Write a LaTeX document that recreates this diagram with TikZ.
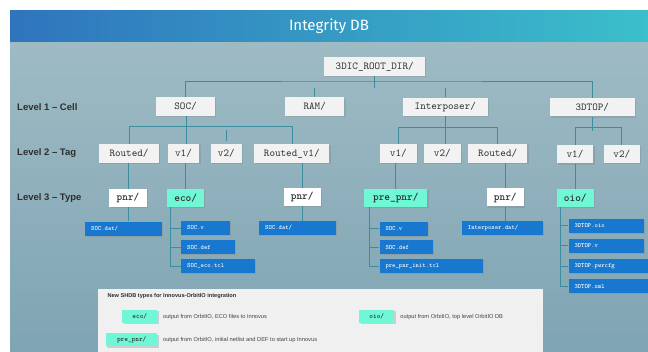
\documentclass[tikz,border=0pt]{standalone}
\usepackage{fontspec}
\setmainfont{Liberation Sans}
\newfontfamily\headfont{Fira Sans}
\usetikzlibrary{positioning,shadows}

\definecolor{headL}{HTML}{2F74BD}
\definecolor{headR}{HTML}{3BBFCB}
\definecolor{bgTop}{HTML}{9EBBC4}
\definecolor{bgBot}{HTML}{7FA4B3}
\definecolor{boxgray}{HTML}{F2F2F2}
\definecolor{typeteal}{HTML}{70F7D6}
\definecolor{fileblue}{HTML}{1877CF}
\definecolor{linkteal}{HTML}{3A8E9E}
\definecolor{labgray}{HTML}{2E2E2E}
\definecolor{panelgray}{HTML}{F0F0F0}

\tikzset{
  softshadow/.style={drop shadow={shadow xshift=1.2pt,shadow yshift=-1.2pt,opacity=0.3}},
  dirbox/.style={fill=boxgray, text=labgray, inner sep=0pt, minimum height=18.5pt,
    font=\ttfamily\fontsize{10.6}{12}\selectfont, softshadow},
  typebox/.style={dirbox, fill=white, minimum height=18pt,
    font=\ttfamily\bfseries\fontsize{10.8}{12}\selectfont},
  newtype/.style={typebox, fill=typeteal},
  file/.style={fill=fileblue, text=white, anchor=west, align=left, inner xsep=6pt,
    inner ysep=0pt, minimum height=14pt, font=\ttfamily\bfseries\fontsize{6.4}{7}\selectfont,
    softshadow},
  link/.style={draw=linkteal, line width=0.8pt},
  level/.style={anchor=west, inner sep=0pt, text=labgray, font=\bfseries\fontsize{9.5}{11}\selectfont},
  key/.style={fill=typeteal, text=labgray, inner sep=0pt, minimum height=13pt,
    font=\ttfamily\bfseries\fontsize{7}{8}\selectfont, softshadow},
  note/.style={inner sep=0pt, text=labgray!90, font=\fontsize{5.7}{7}\selectfont},
}

\begin{document}
\begin{tikzpicture}[x=1pt, y=-1pt]
\useasboundingbox (0,0) rectangle (648,352);

%--- background and header ---
\shade[top color=bgTop, bottom color=bgBot] (10,42) rectangle (648,352);
\shade[left color=headL, right color=headR] (10,11) rectangle (648,42);
\node[text=white, font=\headfont\fontsize{15}{18}\selectfont] (title) at (329,26.5) {Integrity DB};

%--- level labels ---
\node[level] (lvlCell) at (17,107) {Level 1 – Cell};
\node[level] (lvlTag) at (17,153) {Level 2 – Tag};
\node[level] (lvlType) at (17,198.3) {Level 3 – Type};

%--- root and level 1 ---
\node[dirbox, minimum width=101pt] (root) at (374.7,66.5) {3DIC\_ROOT\_DIR/};
\node[dirbox, minimum width=59pt] (soc) at (185.5,106.5) {SOC/};
\node[dirbox, minimum width=59.3pt] (ram) at (314.7,106.7) {RAM/};
\node[dirbox, minimum width=84.7pt] (ipos) at (445.3,106.8) {Interposer/};
\node[dirbox, minimum width=84.7pt] (top) at (592.3,107.2) {3DTOP/};

%--- level 2 ---
\node[dirbox, minimum width=59.7pt] (socRouted) at (129,153.5) {Routed/};
\node[dirbox, minimum width=31.7pt] (socVa) at (183.5,153.5) {v1/};
\node[dirbox, minimum width=30.7pt] (socVb) at (226.3,153.5) {v2/};
\node[dirbox, minimum width=75pt] (socRv) at (291.8,153.5) {Routed\_v1/};
\node[dirbox, minimum width=36.7pt] (ipVa) at (398.3,153.3) {v1/};
\node[dirbox, minimum width=36.7pt] (ipVb) at (442.3,153.3) {v2/};
\node[dirbox, minimum width=59.3pt] (ipRouted) at (497.7,153.3) {Routed/};
\node[dirbox, minimum width=36.7pt] (topVa) at (575,154.2) {v1/};
\node[dirbox, minimum width=36.3pt] (topVb) at (621.8,154) {v2/};

%--- level 3 ---
\node[typebox, minimum width=37.3pt] (socPnr) at (128,197.8) {pnr/};
\node[newtype, minimum width=36.7pt] (socEco) at (185.7,198) {eco/};
\node[typebox, minimum width=37pt] (rvPnr) at (302.2,197.2) {pnr/};
\node[newtype, minimum width=63pt] (ipPre) at (395.8,198.2) {pre\_pnr/};
\node[typebox, minimum width=36.7pt] (ipPnr) at (505.3,197.5) {pnr/};
\node[newtype, minimum width=37.3pt] (topOio) at (575.3,198.2) {oio/};

%--- files ---
\node[file, text width=65pt] (socDat) at (85,228.7) {SOC.dat/};
\node[file, text width=36.3pt] (ecoA) at (181,228) {SOC.v};
\node[file, text width=41.3pt] (ecoB) at (181,247.2) {SOC.def};
\node[file, text width=61.3pt] (ecoC) at (181,266.3) {SOC\_eco.tcl};
\node[file, text width=65pt] (rvDat) at (259,228) {SOC.dat/};
\node[file, text width=36pt] (preA) at (379.3,228.8) {SOC.v};
\node[file, text width=41.3pt] (preB) at (379.3,247.2) {SOC.def};
\node[file, text width=91.3pt] (preC) at (379.3,266.3) {pre\_pnr\_init.tcl};
\node[file, text width=69pt] (ipDat) at (461.7,228.2) {Interposer.dat/};
\node[file, text width=63pt] (oioA) at (568.3,225.7) {3DTOP.oio};
\node[file, text width=63pt] (oioB) at (568.3,245.7) {3DTOP.v};
\node[file, text width=68pt] (oioC) at (568.3,266) {3DTOP.pwrcfg};
\node[file, text width=68pt] (oioD) at (568.3,286.3) {3DTOP.xml};

%--- connectors, root to level 1 ---
\coordinate (busA) at (374.7,81);
\draw[link] (soc.north) |- (busA) -| (top.north);
\draw[link] (root.south) -- ++(0,12.5);
\draw[link] (ram.north) -- ++(0,-9.5);
\draw[link] (ipos.north) -- ++(0,-9.5);

%--- level 1 to level 2 ---
\coordinate (busSoc) at (200,126.3);
\coordinate (busIp) at (445,127.7);
\coordinate (busTop) at (600,127.7);
\draw[link] (socRouted.north) |- (busSoc) -| ([xshift=0.5pt]socRv.north);
\draw[link] ([xshift=0.5pt]soc.south) -- ([xshift=0.5pt]soc.south |- socVa.north);
\draw[link] ([yshift=3.3pt]socVb.north) -- ++(0,-10.7);
\draw[link] (ipVa.north) |- (busIp) -| (ipRouted.north);
\draw[link] (ipos.south) -- (ipos.south |- ipVb.north);
\draw[link] (topVa.north) |- (busTop) -| (topVb.north);
\draw[link] (top.south) -- ++(0,14);

%--- level 2 to level 3 ---
\draw[link] (socPnr.north) -- (socPnr.north |- socRouted.south);
\draw[link] (socEco.north) -- (socEco.north |- socVa.south);
\draw[link] (rvPnr.north) -- (rvPnr.north |- socRv.south);
\draw[link] (ipPre.north) -- (ipPre.north |- ipVa.south);
\draw[link] (ipPnr.north) -- (ipPnr.north |- ipRouted.south);
\draw[link] (topOio.north) -- (topOio.north |- topVa.south);

%--- level 3 to files ---
\draw[link] (socPnr.south) -- (socPnr.south |- socDat.north);
\draw[link] (rvPnr.south) -- (rvPnr.south |- rvDat.north);
\draw[link] (ipPnr.south) -- (ipPnr.south |- ipDat.north);
\foreach \f in {ecoA,ecoB,ecoC}
  \draw[link] ([xshift=3.5pt]socEco.south west) |- (\f.west);
\foreach \f in {preA,preB,preC}
  \draw[link] ([xshift=5.7pt]ipPre.south west) |- (\f.west);
\foreach \f in {oioA,oioB,oioC,oioD}
  \draw[link] ([xshift=4pt]topOio.south west) |- (\f.west);

%--- legend ---
\fill[panelgray] (98.3,289.3) rectangle (543.3,352);
\node[anchor=west, inner sep=0pt, text=labgray, font=\bfseries\fontsize{5.6}{7}\selectfont]
  (legTitle) at (107.3,296) {New SHDB types for Innovus-OrbitIO integration};
\node[key, minimum width=35pt] (keyEco) at (139.8,316.8) {eco/};
\node[note, right=5.4pt of keyEco] (noteEco) {output from OrbitIO, ECO files to Innovus};
\node[key, minimum width=35pt] (keyOio) at (376.8,316.8) {oio/};
\node[note, right=5.7pt of keyOio] (noteOio) {output from OrbitIO, top level OrbitIO DB};
\node[key, minimum width=51.3pt] (keyPre) at (131.7,340) {pre\_pnr/};
\node[note, right=5.4pt of keyPre] (notePre) {output from OrbitIO, initial netlist and DEF to start up Innovus};

\end{tikzpicture}
\end{document}
